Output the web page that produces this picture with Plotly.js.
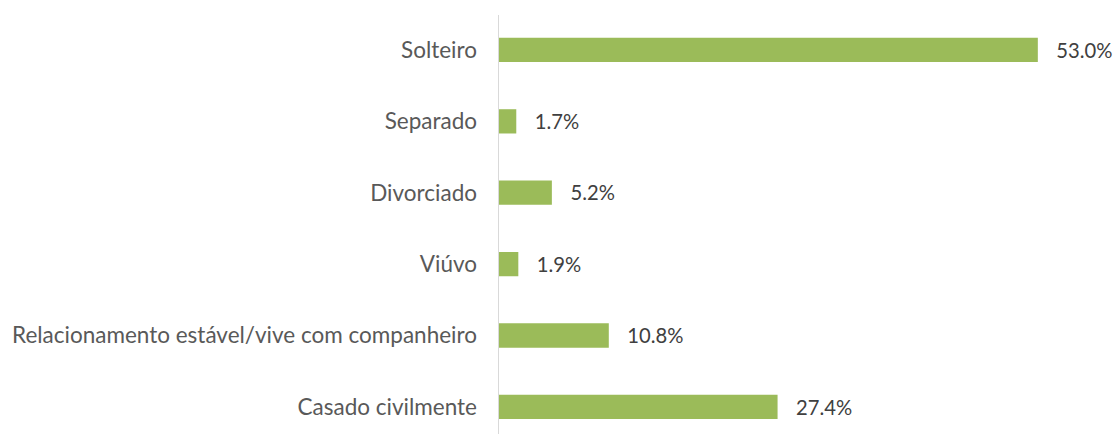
<!DOCTYPE html>
<html><head><meta charset="utf-8">
<script src="https://cdn.plot.ly/plotly-3.0.1.min.js"></script>
<style>html,body{margin:0;padding:0;background:#fff;}#chart{width:1117px;height:434px;}</style>
</head><body><div id="chart"></div>
<script>
const categories = ["Casado civilmente","Relacionamento estável/vive com companheiro","Viúvo","Divorciado","Separado","Solteiro"];
const values = [27.4, 10.8, 1.9, 5.2, 1.7, 53.0];
const valueLabels = ["27.4%","10.8%","1.9%","5.2%","1.7%","53.0%"];

const trace = {
  type: 'bar', orientation: 'h',
  x: values, y: categories,
  width: 0.34,
  marker: {color: '#9BBB59'},
  text: valueLabels.map(t => '   ' + t),
  textposition: 'outside',
  textfont: {family: 'Lato, sans-serif', size: 22.5, color: '#404040'},
  cliponaxis: false,
  hoverinfo: 'none'
};
const layout = {
  width: 1117, height: 434,
  margin: {l: 499, r: 8, t: 15, b: 0},
  paper_bgcolor: '#fff', plot_bgcolor: '#fff',
  showlegend: false,
  font: {family: 'Lato, sans-serif', size: 22.5, color: '#595959'},
  xaxis: {range: [0, 60], showgrid: false, zeroline: false, showticklabels: false, showline: false, fixedrange: true},
  yaxis: {type: 'category', range: [-0.38, 5.49], showline: true, linecolor: '#d9d9d9', linewidth: 1.5,
          showgrid: false, zeroline: false, ticks: '', ticklabelstandoff: 16,
          tickfont: {family: 'Lato, sans-serif', size: 22.5, color: '#595959'}}
};
Plotly.newPlot('chart', [trace], layout, {staticPlot: true, displayModeBar: false});
</script></body></html>
